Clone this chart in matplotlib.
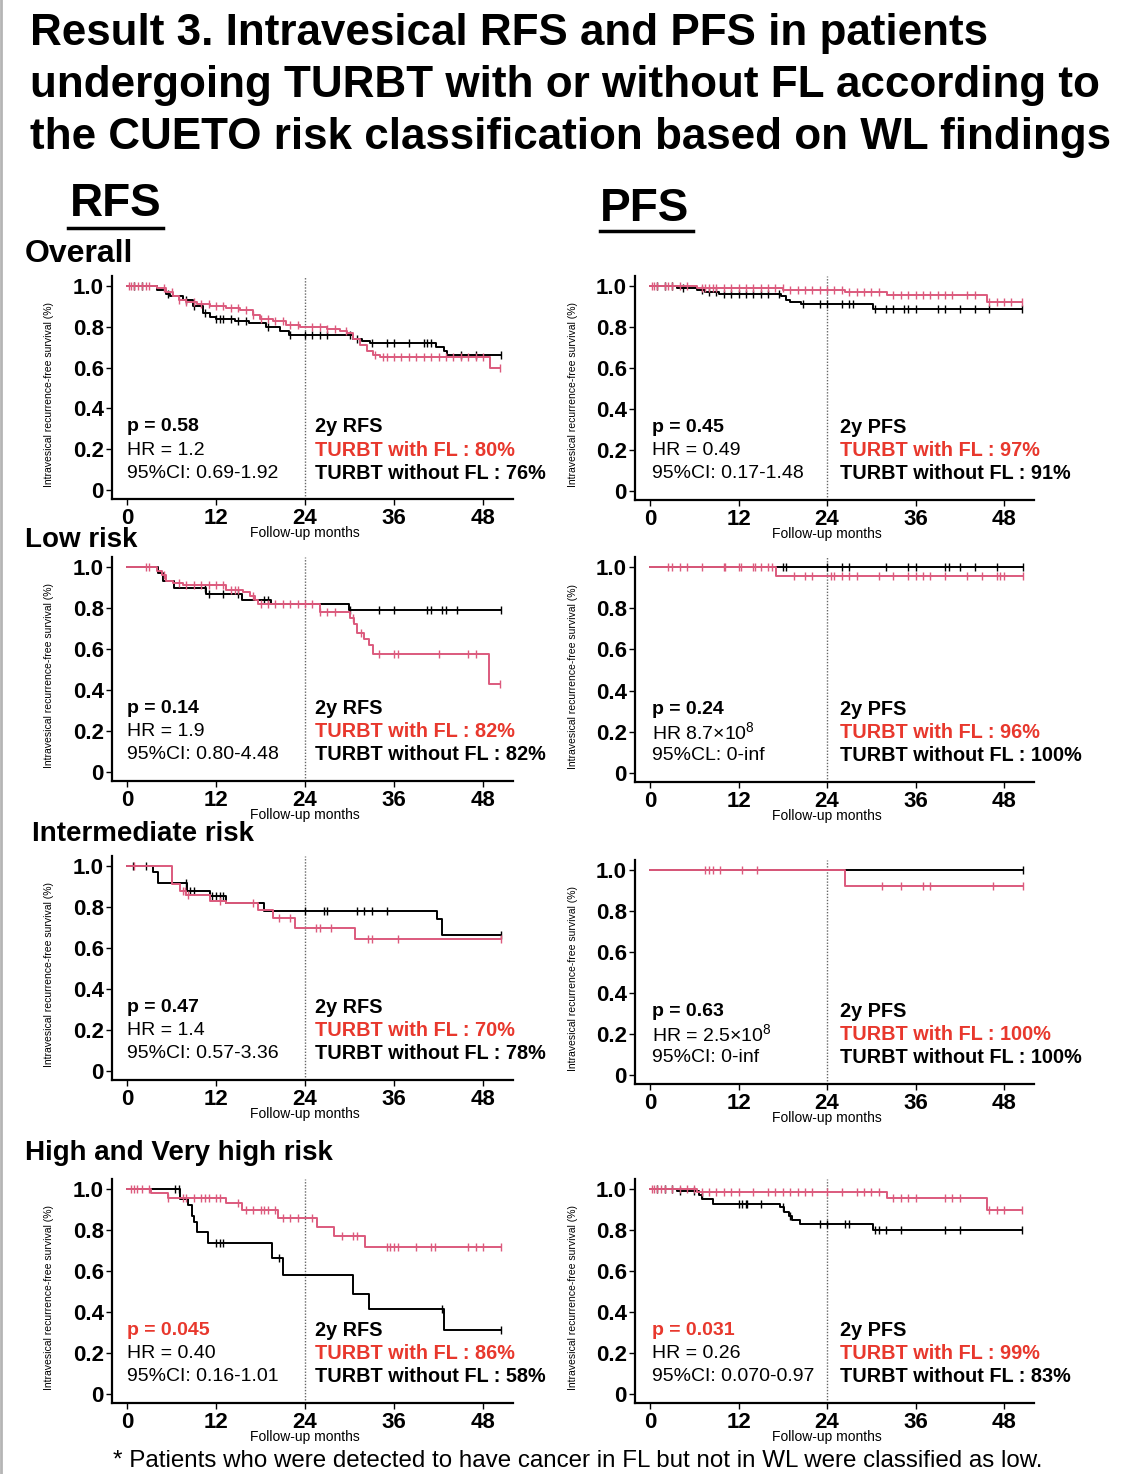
import matplotlib
matplotlib.use("Agg")

import numpy as np
import matplotlib.pyplot as plt
from matplotlib.lines import Line2D

plt.rcParams['font.family'] = ['Liberation Sans', 'DejaVu Sans']
plt.rcParams['mathtext.fontset'] = 'custom'
plt.rcParams['mathtext.rm'] = 'Liberation Sans'

W, H = 1124, 1474
PINK = '#dc5a7d'
RED = '#e8382d'

# ================================
# data (months, survival)
# ================================
# Overall RFS
rfs_all_wo_t = [0, 4, 5.2, 5.8, 7.6, 8.9, 10.3, 11.2, 12, 14.5, 16.5, 18.8, 20.6, 21.8, 30.5, 31.7, 32.8, 41.6, 42.7, 43.2]
rfs_all_wo_s = [1.0, 0.98, 0.96, 0.95, 0.93, 0.90, 0.87, 0.85, 0.84, 0.83, 0.82, 0.80, 0.78, 0.76, 0.74, 0.73, 0.72, 0.70, 0.68, 0.66]
rfs_all_wo_c = [1, 2, 5.5, 8, 9, 10.5, 12, 12.5, 13, 14, 15, 16, 19, 22, 24, 25, 26, 27, 30, 31, 33, 35, 36, 38, 40, 40.5, 41, 45, 47, 50.4]
rfs_all_fl_t = [0, 4, 5.2, 6.2, 7.0, 8.0, 9.4, 11.2, 13.4, 15.2, 17.0, 17.9, 19.7, 21.5, 23.3, 27.0, 28.7, 29.6, 30.5, 31.4, 32.3, 33.2, 34.1, 49.0]
rfs_all_fl_s = [1.0, 0.99, 0.97, 0.95, 0.93, 0.92, 0.91, 0.90, 0.89, 0.88, 0.86, 0.84, 0.83, 0.81, 0.80, 0.79, 0.78, 0.77, 0.74, 0.71, 0.68, 0.66, 0.65, 0.60]
rfs_all_fl_c = [0.3, 0.6, 1, 1.5, 2, 2.5, 3, 5, 6, 7, 8, 9, 10, 11, 12, 13, 14, 15, 16, 17, 18, 19, 20, 21, 22, 23, 25,
                26, 27, 28, 29.5, 33.5, 34.5, 35, 36, 37, 38, 39, 40, 41, 42, 43, 44, 45, 46, 47, 48, 50.3]

# Overall PFS
pfs_all_wo_t = [0, 3.6, 6.4, 7.4, 9.3, 17.7, 18.5, 19.0, 20.5, 30.3]
pfs_all_wo_s = [1.0, 0.99, 0.98, 0.97, 0.96, 0.95, 0.93, 0.92, 0.91, 0.89]
pfs_all_wo_c = [1, 2, 3, 4.5, 7, 8, 9, 10, 11, 12, 13, 14, 15, 16, 17.5, 20.8, 23, 24, 26, 27, 27.5, 30.5, 32, 33,
                34.5, 35, 36, 39, 40, 42, 44, 46, 50.4]
pfs_all_fl_t = [0, 6.4, 18.1, 26.5, 32.1, 45.7]
pfs_all_fl_s = [1.0, 0.99, 0.98, 0.97, 0.955, 0.92]
pfs_all_fl_c = [0.3, 0.6, 1, 2, 2.5, 3, 4, 5, 7, 7.5, 8, 8.5, 9, 10, 11, 12, 13, 14, 15, 16, 17, 18, 19, 20, 21, 22,
                23, 24, 25, 26, 27, 28, 29, 30, 31, 33, 34, 35, 36, 37, 38, 39, 40, 41, 43, 44, 46, 47, 48, 49, 50.4]

# Low risk RFS
rfs_low_wo_t = [0, 4.2, 4.9, 6.4, 10.7, 15.5, 19.4, 29.9]
rfs_low_wo_s = [1.0, 0.97, 0.93, 0.90, 0.87, 0.84, 0.82, 0.79]
rfs_low_wo_c = [10.5, 11, 13, 15, 18.5, 19, 30, 34, 36, 40.5, 41, 42.5, 43, 44.5, 50.4]
rfs_low_fl_t = [0, 4.0, 4.7, 5.3, 6.2, 7.6, 13.4, 15.7, 16.6, 17.3, 17.6, 26.0, 30.1, 30.6, 31.0, 31.9, 32.6, 33.2, 48.8]
rfs_low_fl_s = [1.0, 0.98, 0.96, 0.93, 0.92, 0.91, 0.89, 0.88, 0.86, 0.84, 0.82, 0.78, 0.75, 0.72, 0.68, 0.65, 0.62, 0.575, 0.43]
rfs_low_fl_c = [2.5, 3, 5, 7, 8, 9, 10, 11, 12, 13, 14, 14.5, 15, 17, 18, 19, 20, 21, 22, 23, 24, 25, 26, 27, 28,
                30.5, 31.5, 34, 36, 36.5, 42, 46, 47, 50.3]

# Low risk PFS
pfs_low_wo_t = [0]
pfs_low_wo_s = [1.0]
pfs_low_wo_c = [18, 18.5, 24, 26, 27, 32, 35, 36, 40, 40.5, 42, 44, 47, 50.6]
pfs_low_fl_t = [0, 17.1]
pfs_low_fl_s = [1.0, 0.955]
pfs_low_fl_c = [2.5, 3, 4, 5, 7, 10, 10.2, 12, 12.3, 14, 14.3, 15, 16, 16.5, 19.5, 21, 22, 24.5, 25, 26, 27, 28, 31,
                33, 35, 36, 37, 38, 40, 43, 45, 47, 47.5, 48, 50.6]

# Intermediate risk RFS
rfs_int_wo_t = [0, 3.5, 4.2, 8.1, 11.2, 13.4, 18.5, 41.8, 42.5]
rfs_int_wo_s = [1.0, 0.97, 0.915, 0.88, 0.855, 0.82, 0.78, 0.74, 0.665]
rfs_int_wo_c = [0.8, 2.5, 8, 8.5, 9, 11.5, 12, 12.5, 13, 24, 26.5, 27, 31, 32, 33, 35, 50.4]
rfs_int_fl_t = [0, 6.0, 7.1, 8.0, 11.2, 13.4, 17.6, 19.7, 22.7, 30.8]
rfs_int_fl_s = [1.0, 0.91, 0.88, 0.86, 0.83, 0.82, 0.785, 0.745, 0.70, 0.645]
rfs_int_fl_c = [1, 7.5, 7.8, 8.2, 12.5, 17, 20.5, 22, 25.5, 26, 27.5, 32.5, 33, 36.5, 50.4]

# Intermediate risk PFS
pfs_int_wo_t = [0]
pfs_int_wo_s = [1.0]
pfs_int_wo_c = [50.6]
pfs_int_fl_t = [0, 26.5]
pfs_int_fl_s = [1.0, 0.92]
pfs_int_fl_c = [7.5, 8, 8.5, 9.5, 12.5, 14.5, 31.5, 34, 37, 38, 46.5, 50.6]

# High and very high risk RFS
rfs_high_wo_t = [0, 7.1, 8.2, 8.7, 9.1, 9.4, 10.9, 19.5, 21.1, 30.5, 32.6, 42.7]
rfs_high_wo_s = [1.0, 0.95, 0.92, 0.87, 0.84, 0.79, 0.735, 0.665, 0.58, 0.49, 0.415, 0.31]
rfs_high_wo_c = [6.5, 7, 12, 12.5, 13, 20.5, 42.5, 50.4]
rfs_high_fl_t = [0, 3.3, 5.5, 13.4, 15.5, 20.4, 25.6, 27.9, 32.1]
rfs_high_fl_s = [1.0, 0.98, 0.955, 0.93, 0.90, 0.857, 0.816, 0.77, 0.715]
rfs_high_fl_c = [0.5, 1, 1.3, 2, 3, 5.5, 7.5, 8, 9, 10, 10.5, 11, 12, 12.5, 15, 16, 17, 18, 18.5, 19, 20, 21, 22,
                 23, 25, 29, 30.5, 31, 35, 35.5, 36, 36.5, 39, 41, 41.5, 46, 47, 48, 50.4]

# High and very high risk PFS
pfs_high_wo_t = [0, 3.6, 6.6, 7.1, 8.5, 17.6, 18.2, 18.8, 19.3, 20.4, 30.3]
pfs_high_wo_s = [1.0, 0.99, 0.97, 0.95, 0.927, 0.91, 0.89, 0.87, 0.85, 0.83, 0.80]
pfs_high_wo_c = [1, 2, 3, 4, 6, 7, 12, 12.5, 13, 13.2, 15, 18, 19, 23, 24, 26.5, 27, 30.5, 31, 32, 34, 40, 42, 50.4]
pfs_high_fl_t = [0, 6.4, 32.2, 45.7]
pfs_high_fl_s = [1.0, 0.987, 0.956, 0.897]
pfs_high_fl_c = [0.3, 0.6, 1, 1.5, 2, 3, 4, 5, 6, 7, 8, 9, 10, 11, 12, 14, 16, 17, 18, 19, 20, 21, 22, 24, 26, 28,
                 29, 30, 31, 33, 34, 35, 36, 40, 41, 42, 46, 47, 48, 50.4]

# ================================
# texts
# ================================
TITLE_LINES = ["Result 3. Intravesical RFS and PFS in patients",
               "undergoing TURBT with or without FL according to",
               "the CUETO risk classification based on WL findings"]
GROUPS = ["Overall", "Low risk", "Intermediate risk", "High and Very high risk"]
GROUP_SIZES = [23, 20, 20, 20]
P_TEXT = [["p = 0.58", "p = 0.45"], ["p = 0.14", "p = 0.24"],
          ["p = 0.47", "p = 0.63"], ["p = 0.045", "p = 0.031"]]
HR_TEXT = [["HR = 1.2", "HR = 0.49"], ["HR = 1.9", r"HR 8.7×10$^{8}$"],
           ["HR = 1.4", r"HR = 2.5×10$^{8}$"], ["HR = 0.40", "HR = 0.26"]]
CI_TEXT = [["95%CI: 0.69-1.92", "95%CI: 0.17-1.48"], ["95%CI: 0.80-4.48", "95%CL: 0-inf"],
           ["95%CI: 0.57-3.36", "95%CI: 0-inf"], ["95%CI: 0.16-1.01", "95%CI: 0.070-0.97"]]
FL_2Y = [["80%", "97%"], ["82%", "96%"], ["70%", "100%"], ["86%", "99%"]]
WO_2Y = [["76%", "91%"], ["82%", "100%"], ["78%", "100%"], ["58%", "83%"]]
P_SIG = [[False, False], [False, False], [False, False], [True, True]]

CURVES = [
    [(rfs_all_wo_t, rfs_all_wo_s, rfs_all_wo_c, rfs_all_fl_t, rfs_all_fl_s, rfs_all_fl_c),
     (pfs_all_wo_t, pfs_all_wo_s, pfs_all_wo_c, pfs_all_fl_t, pfs_all_fl_s, pfs_all_fl_c)],
    [(rfs_low_wo_t, rfs_low_wo_s, rfs_low_wo_c, rfs_low_fl_t, rfs_low_fl_s, rfs_low_fl_c),
     (pfs_low_wo_t, pfs_low_wo_s, pfs_low_wo_c, pfs_low_fl_t, pfs_low_fl_s, pfs_low_fl_c)],
    [(rfs_int_wo_t, rfs_int_wo_s, rfs_int_wo_c, rfs_int_fl_t, rfs_int_fl_s, rfs_int_fl_c),
     (pfs_int_wo_t, pfs_int_wo_s, pfs_int_wo_c, pfs_int_fl_t, pfs_int_fl_s, pfs_int_fl_c)],
    [(rfs_high_wo_t, rfs_high_wo_s, rfs_high_wo_c, rfs_high_fl_t, rfs_high_fl_s, rfs_high_fl_c),
     (pfs_high_wo_t, pfs_high_wo_s, pfs_high_wo_c, pfs_high_fl_t, pfs_high_fl_s, pfs_high_fl_c)],
]

# pixel anchors of each panel: (x of month 0, x of month 48, y of 1.0, y of 0)
PANEL_PX = [[(127, 483, 286, 490), (650, 1004, 286, 491)],
            [(127, 483, 567, 772), (650, 1004, 567, 773)],
            [(127, 483, 866, 1071), (650, 1004, 870, 1075)],
            [(127, 483, 1189, 1394), (650, 1004, 1189, 1394)]]
GROUP_POS = [(25, 254), (25, 540), (32, 834), (25, 1153)]
RIGHT_TEXT_X = [25.4, 25.8]

fig = plt.figure(figsize=(W / 100, H / 100), dpi=100)


def add_panel(x0, x48, y1, y0):
    u = (x48 - x0) / 48
    left, right = x0 - 2 * u, x0 + 52 * u
    h = y0 - y1
    bottom, top = y0 + 0.045 * h, y1 - 0.05 * h
    return fig.add_axes([left / W, 1 - bottom / H, (right - left) / W, (bottom - top) / H])


def km(ax, t, s, cens, end, color):
    t = np.asarray(t, float)
    s = np.asarray(s, float)
    ax.step(np.append(t, end), np.append(s, s[-1]), where='post', color=color, lw=1.4)
    c = np.asarray(cens, float)
    idx = np.searchsorted(t, c, side='right') - 1
    ax.plot(c, s[idx], ls='none', marker='|', ms=6, mew=1.0, color=color)


for r in range(4):
    for col in range(2):
        ax = add_panel(*PANEL_PX[r][col])
        ax.set_xlim(-2, 52)
        ax.set_ylim(-0.045, 1.05)
        for sp in ['top', 'right']:
            ax.spines[sp].set_visible(False)
        for sp in ['left', 'bottom']:
            ax.spines[sp].set_linewidth(1.6)
        ax.set_xticks([0, 12, 24, 36, 48])
        ax.set_yticks([0, 0.2, 0.4, 0.6, 0.8, 1.0])
        ax.set_yticklabels(["0", "0.2", "0.4", "0.6", "0.8", "1.0"])
        ax.tick_params(axis='both', labelsize=16, length=4, width=1.0, pad=2)
        for lab in ax.get_xticklabels() + ax.get_yticklabels():
            lab.set_fontweight('bold')

        wo_t, wo_s, wo_c, fl_t, fl_s, fl_c = CURVES[r][col]
        ax.plot([24, 24], [-0.045, 1.05], ls=(0, (1, 1.2)), color='#666666', lw=1.0)
        km(ax, wo_t, wo_s, wo_c, max(wo_c), 'black')
        km(ax, fl_t, fl_s, fl_c, max(fl_c), PINK)

        ax.set_ylabel("Intravesical recurrence-free survival (%)", fontsize=7.5)
        ax.yaxis.set_label_coords(-0.145, 0.47)
        ax.annotate("Follow-up months", xy=(24, 0), xycoords=('data', 'axes fraction'),
                    xytext=(0, -24.5), textcoords='offset points', ha='center', va='center',
                    fontsize=10)

        name = "RFS" if col == 0 else "PFS"
        px = 0.3 * col
        rx = RIGHT_TEXT_X[col]
        ax.text(px, 0.31, P_TEXT[r][col], fontsize=14, fontweight='bold', va='center',
                color=RED if P_SIG[r][col] else 'black')
        ax.text(px, 0.196, HR_TEXT[r][col], fontsize=14, va='center')
        ax.text(px, 0.083, CI_TEXT[r][col], fontsize=14, va='center')
        ax.text(rx, 0.31, "2y " + name, fontsize=14.3, fontweight='bold', va='center')
        ax.text(rx, 0.196, "TURBT with FL : " + FL_2Y[r][col], fontsize=14.3, fontweight='bold',
                va='center', color=RED, clip_on=False)
        ax.text(rx, 0.083, "TURBT without FL : " + WO_2Y[r][col], fontsize=14.3, fontweight='bold',
                va='center', clip_on=False)

# headings
for i, line in enumerate(TITLE_LINES):
    fig.text(30 / W, 1 - (33 + 52 * i) / H, line, fontsize=31.7, fontweight='bold', va='center')

fig.text(70 / W, 1 - 204 / H, "RFS", fontsize=33, fontweight='bold', va='center')
fig.add_artist(Line2D([68 / W, 163 / W], [1 - 228 / H, 1 - 228 / H], color='black', lw=2.5))
fig.text(600 / W, 1 - 209 / H, "PFS", fontsize=33, fontweight='bold', va='center')
fig.add_artist(Line2D([600 / W, 693 / W], [1 - 231 / H, 1 - 231 / H], color='black', lw=2.5))

for g, gs, (gx, gy) in zip(GROUPS, GROUP_SIZES, GROUP_POS):
    fig.text(gx / W, 1 - gy / H, g, fontsize=gs, fontweight='bold', va='center')

fig.text(578 / W, 1 - 1461 / H,
         "* Patients who were detected to have cancer in FL but not in WL were classified as low.",
         fontsize=17.4, ha='center', va='center')

fig.add_artist(Line2D([1 / W, 1 / W], [0, 1], color='#b5b5b5', lw=2))

fig.savefig("out.png", dpi=100)
plt.close()
